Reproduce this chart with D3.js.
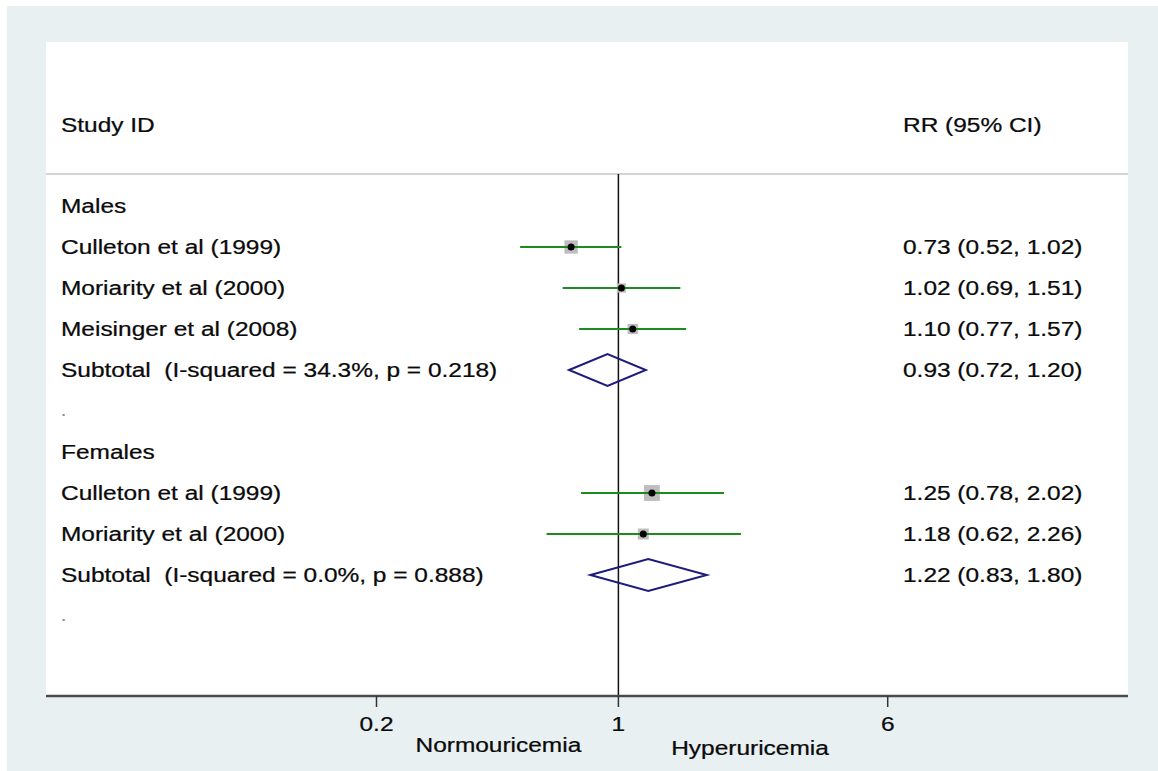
<!DOCTYPE html>
<html>
<head>
<meta charset="utf-8">
<script src="https://cdn.jsdelivr.net/npm/d3@7"></script>
<style>
  body { margin: 0; background: #fff; }
  text { font-family: "Liberation Sans", Arial, sans-serif; fill: #0a0a0a; }
</style>
</head>
<body>
<svg></svg>
<script>
const width = 1158, height = 771;

// rows of the forest plot, top to bottom
const labels = [
    "Males",
    "Culleton et al (1999)",
    "Moriarity et al (2000)",
    "Meisinger et al (2008)",
    "Subtotal  (I-squared = 34.3%, p = 0.218)",
    ".",
    "Females",
    "Culleton et al (1999)",
    "Moriarity et al (2000)",
    "Subtotal  (I-squared = 0.0%, p = 0.888)",
    "."
];
const kinds = ["group", "study", "study", "study", "subtotal", "blank",
               "group", "study", "study", "subtotal", "blank"];
const rr    = [null, 0.73, 1.02, 1.10, 0.93, null, null, 1.25, 1.18, 1.22, null];
const lower = [null, 0.52, 0.69, 0.77, 0.72, null, null, 0.78, 0.62, 0.83, null];
const upper = [null, 1.02, 1.51, 1.57, 1.20, null, null, 2.02, 2.26, 1.80, null];
const weights = [null, 48.2, 22.9, 28.9, null, null, null, 67.6, 32.4, null, null];

const tickValues = [0.2, 1, 6];
const favours = [
    { label: "Normouricemia", at: 0.45, dy: 0 },
    { label: "Hyperuricemia", at: 2.4, dy: 3 }
];

const plot = { left: 46, right: 1128, top: 42, header: 174, bottom: 696 };
const fontSize = 21, stretch = 1.165;

const svg = d3.select("svg")
    .attr("width", width)
    .attr("height", height);

svg.append("rect")
    .attr("x", 7).attr("y", 6)
    .attr("width", width - 7).attr("height", height - 6)
    .attr("fill", "#e9f0f2");

svg.append("rect")
    .attr("x", plot.left).attr("y", plot.top)
    .attr("width", plot.right - plot.left).attr("height", plot.bottom - plot.top)
    .attr("fill", "#fff");

const xScale = d3.scaleLog().domain([0.2, 6]).range([376.5, 887.7]);
const yScale = d3.scaleLinear().domain([0, labels.length - 1]).range([206, 616]);
const f2 = d3.format(".2f");

// stretched text like the original export
const addText = (sel, x, y, str, anchor = "start") => sel.append("text")
    .attr("transform", `translate(${x},${y}) scale(${stretch},1)`)
    .attr("dy", "0.33em")
    .attr("font-size", fontSize)
    .attr("text-anchor", anchor)
    .attr("stroke", "#0a0a0a")
    .attr("stroke-width", 0.25)
    .style("white-space", "pre")
    .text(str);

// header
addText(svg, 61, 125, "Study ID");
addText(svg, 903, 125, "RR (95% CI)");

svg.append("line")
    .attr("x1", plot.left).attr("x2", plot.right)
    .attr("y1", plot.header).attr("y2", plot.header)
    .attr("stroke", "#d4d4d4").attr("stroke-width", 2);

// null line
svg.append("line")
    .attr("x1", xScale(1)).attr("x2", xScale(1))
    .attr("y1", plot.header).attr("y2", plot.bottom)
    .attr("stroke", "#111").attr("stroke-width", 1.5);

const rows = labels.map((label, i) => ({
    label, kind: kinds[i], rr: rr[i], lo: lower[i], hi: upper[i], w: weights[i], i
}));

// left labels
rows.forEach(d => {
    const t = addText(svg, 61, yScale(d.i), d.label);
    if (d.kind === "blank") t.style("fill", "#888").attr("stroke", "#888").attr("font-size", 16);
});

// right estimates
rows.filter(d => d.rr != null).forEach(d => {
    addText(svg, 903, yScale(d.i), `${f2(d.rr)} (${f2(d.lo)}, ${f2(d.hi)})`);
});

const studies = rows.filter(d => d.kind === "study");

svg.selectAll(".wbox")
    .data(studies)
    .enter().append("rect")
    .attr("class", "wbox")
    .attr("x", d => xScale(d.rr) - 0.96 * Math.sqrt(d.w))
    .attr("y", d => yScale(d.i) - 0.96 * Math.sqrt(d.w))
    .attr("width", d => 1.92 * Math.sqrt(d.w))
    .attr("height", d => 1.92 * Math.sqrt(d.w))
    .attr("fill", "#bdbdbd");

svg.selectAll(".ci")
    .data(studies)
    .enter().append("line")
    .attr("class", "ci")
    .attr("x1", d => xScale(d.lo)).attr("x2", d => xScale(d.hi))
    .attr("y1", d => yScale(d.i)).attr("y2", d => yScale(d.i))
    .attr("stroke", "#1f8a1f").attr("stroke-width", 2);

svg.selectAll(".pt")
    .data(studies)
    .enter().append("circle")
    .attr("class", "pt")
    .attr("cx", d => xScale(d.rr))
    .attr("cy", d => yScale(d.i))
    .attr("r", 3.5)
    .attr("fill", "#000");

svg.selectAll(".diamond")
    .data(rows.filter(d => d.kind === "subtotal"))
    .enter().append("path")
    .attr("class", "diamond")
    .attr("d", d => {
        const y = yScale(d.i), h = 16;
        return `M${xScale(d.lo)},${y} L${xScale(d.rr)},${y - h} L${xScale(d.hi)},${y} L${xScale(d.rr)},${y + h} Z`;
    })
    .attr("fill", "none")
    .attr("stroke", "#1c1c7a").attr("stroke-width", 2);

// x axis
const axis = svg.append("g")
    .attr("transform", `translate(0,${plot.bottom})`);

axis.append("line")
    .attr("x1", plot.left).attr("x2", plot.right)
    .attr("stroke", "#4a4a4a").attr("stroke-width", 2.5);

axis.selectAll(".tick")
    .data(tickValues)
    .enter().append("line")
    .attr("class", "tick")
    .attr("x1", d => xScale(d)).attr("x2", d => xScale(d))
    .attr("y1", 0).attr("y2", 11)
    .attr("stroke", "#333").attr("stroke-width", 1.5);

tickValues.forEach(v => addText(svg, xScale(v), 724, String(v), "middle"));
favours.forEach(f => addText(svg, xScale(f.at), 745 + f.dy, f.label, "middle"));
</script>
</body>
</html>
